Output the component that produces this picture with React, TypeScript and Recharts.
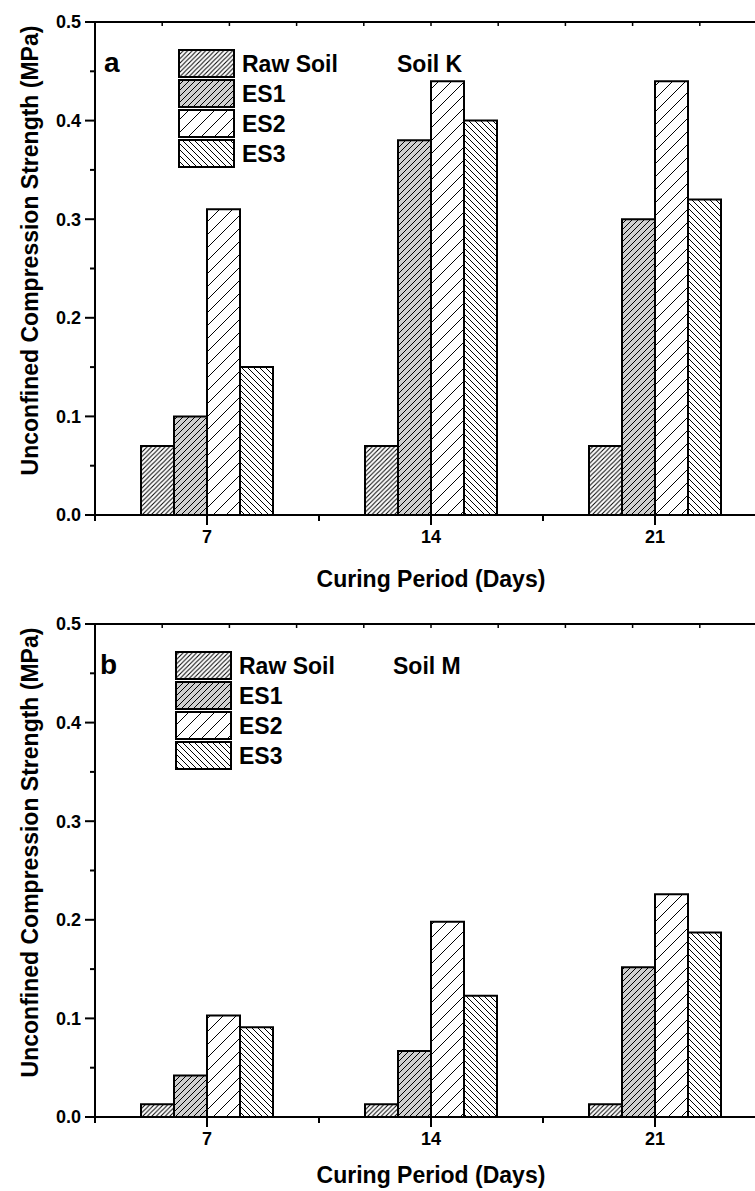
import React from "react";
import { BarChart, Bar, XAxis, YAxis } from "recharts";

const days = ["7", "14", "21"];
const seriesNames = ["Raw Soil", "ES1", "ES2", "ES3"];

// panel a - Soil K
const soilKRaw = [0.07, 0.07, 0.07];
const soilKES1 = [0.1, 0.38, 0.3];
const soilKES2 = [0.31, 0.44, 0.44];
const soilKES3 = [0.15, 0.4, 0.32];

// panel b - Soil M
const soilMRaw = [0.013, 0.013, 0.013];
const soilMES1 = [0.042, 0.067, 0.152];
const soilMES2 = [0.103, 0.198, 0.226];
const soilMES3 = [0.091, 0.123, 0.187];

const yTicks = [0, 0.05, 0.1, 0.15, 0.2, 0.25, 0.3, 0.35, 0.4, 0.45, 0.5];
const TOP_DIVISIONS = 10;

const FONT = '"Liberation Sans", Arial, Helvetica, sans-serif';
const PANEL_W = 780;
const PANEL_H = 602;
const MARGIN = { top: 22, right: 13, bottom: 0, left: 0 };
const Y_AXIS_W = 95;
const X_AXIS_H = 87;
const PLOT_W = PANEL_W - MARGIN.right - Y_AXIS_W;
const BAND_W = PLOT_W / days.length;
const AXIS = { stroke: "#000", strokeWidth: 2 };

const hatches = [
  { id: "hatch-raw", step: 4.5, dir: "/", bg: "#ffffff" },
  { id: "hatch-es1", step: 6, dir: "/", bg: "#cfcfcf" },
  { id: "hatch-es2", step: 13, dir: "/", bg: "#ffffff" },
  { id: "hatch-es3", step: 6, dir: "\\", bg: "#ffffff" },
];
const seriesKeys = ["raw", "es1", "es2", "es3"];

function HatchDefs() {
  return (
    <svg width={0} height={0} style={{ position: "absolute" }}>
      <defs>
        {hatches.map((h) => {
          const s = h.step;
          const d =
            h.dir === "/"
              ? `M0,${s} L${s},0 M-1,1 L1,-1 M${s - 1},${s + 1} L${s + 1},${s - 1}`
              : `M0,0 L${s},${s} M${s - 1},-1 L${s + 1},1 M-1,${s - 1} L1,${s + 1}`;
          return (
            <pattern key={h.id} id={h.id} patternUnits="userSpaceOnUse" width={s} height={s}>
              <rect width={s} height={s} fill={h.bg} />
              <path d={d} stroke="#000" strokeWidth={1} />
            </pattern>
          );
        })}
      </defs>
    </svg>
  );
}

const YTick = ({ x, y, payload }: any) => {
  const v = payload.value;
  const major = Math.abs(v * 10 - Math.round(v * 10)) < 1e-6;
  return (
    <g>
      <line x1={x - (major ? 10 : 5)} x2={x} y1={y} y2={y} stroke="#000" strokeWidth={2} />
      {major && (
        <text x={x - 14} y={y} dy="0.36em" textAnchor="end" fontFamily={FONT} fontWeight="bold" fontSize={18} fill="#000">
          {v.toFixed(1)}
        </text>
      )}
    </g>
  );
};

// labelled tick at the band centre, short minor ticks at the band edges
const DayTick = ({ x, y, payload, index }: any) => {
  const half = BAND_W / 2;
  return (
    <g>
      <line x1={x} x2={x} y1={y} y2={y + 10} stroke="#000" strokeWidth={2} />
      <line x1={x + half} x2={x + half} y1={y} y2={y + 6} stroke="#000" strokeWidth={2} />
      {index === 0 && <line x1={x - half} x2={x - half} y1={y} y2={y + 6} stroke="#000" strokeWidth={2} />}
      <text x={x} y={y + 15} dy="0.71em" textAnchor="middle" fontFamily={FONT} fontWeight="bold" fontSize={18} fill="#000">
        {payload.value}
      </text>
    </g>
  );
};

const XTitle = ({ viewBox, offsetY }: any) => (
  <text
    x={viewBox.x + viewBox.width / 2}
    y={viewBox.y + offsetY}
    textAnchor="middle"
    fontFamily={FONT}
    fontWeight="bold"
    fontSize={23}
    fill="#000"
  >
    Curing Period (Days)
  </text>
);

const YTitle = ({ viewBox }: any) => {
  const cx = 38;
  const cy = viewBox.y + viewBox.height / 2 - 18;
  return (
    <text
      x={cx}
      y={cy}
      transform={`rotate(-90 ${cx} ${cy})`}
      textAnchor="middle"
      fontFamily={FONT}
      fontWeight="bold"
      fontSize={23}
      fill="#000"
    >
      Unconfined Compression Strength (MPa)
    </text>
  );
};

interface PanelProps {
  letter: string;
  soil: string;
  raw: number[];
  es1: number[];
  es2: number[];
  es3: number[];
  letterX: number;
  legendX: number;
  soilX: number;
  titleY: number;
}

function Panel({ letter, soil, raw, es1, es2, es3, letterX, legendX, soilX, titleY }: PanelProps) {
  const data = days.map((day, i) => ({
    day,
    raw: raw[i],
    es1: es1[i],
    es2: es2[i],
    es3: es3[i],
  }));
  const top = MARGIN.top;
  const left = Y_AXIS_W;

  return (
    <div style={{ position: "relative", width: PANEL_W, height: PANEL_H }}>
      <BarChart width={PANEL_W} height={PANEL_H} data={data} margin={MARGIN} barGap={0} barSize={33}>
        <XAxis
          dataKey="day"
          type="category"
          interval={0}
          tickSize={0}
          tickMargin={0}
          tickLine={false}
          tick={<DayTick />}
          height={X_AXIS_H}
          axisLine={AXIS}
          label={<XTitle offsetY={titleY} />}
        />
        <YAxis
          type="number"
          domain={[0, 0.5]}
          ticks={yTicks}
          interval={0}
          allowDataOverflow
          width={Y_AXIS_W}
          tickSize={0}
          tickMargin={0}
          tickLine={false}
          tick={<YTick />}
          axisLine={AXIS}
          label={<YTitle />}
        />
        {seriesKeys.map((key, i) => (
          <Bar
            key={key}
            dataKey={key}
            name={seriesNames[i]}
            fill={`url(#${hatches[i].id})`}
            stroke="#000"
            strokeWidth={2}
            isAnimationActive={false}
          />
        ))}
      </BarChart>
      <svg
        width={PANEL_W}
        height={PANEL_H}
        style={{ position: "absolute", left: 0, top: 0, pointerEvents: "none" }}
        fontFamily={FONT}
        fontWeight="bold"
      >
        {/* top frame with small inward ticks */}
        <line x1={left} x2={left + PLOT_W} y1={top} y2={top} stroke="#000" strokeWidth={2} />
        {Array.from({ length: TOP_DIVISIONS + 1 }, (_, i) => (
          <line
            key={i}
            x1={left + (i * PLOT_W) / TOP_DIVISIONS}
            x2={left + (i * PLOT_W) / TOP_DIVISIONS}
            y1={top}
            y2={top + 4}
            stroke="#000"
            strokeWidth={1.5}
          />
        ))}
        <text x={letterX} y={72} fontSize={28} fill="#000">
          {letter}
        </text>
        {seriesNames.map((name, i) => (
          <g key={name}>
            <rect
              x={legendX}
              y={50 + i * 30}
              width={55}
              height={27}
              fill={`url(#${hatches[i].id})`}
              stroke="#000"
              strokeWidth={2}
            />
            <text x={legendX + 63} y={72 + i * 30} fontSize={23} fill="#000">
              {name}
            </text>
          </g>
        ))}
        <text x={soilX} y={72} fontSize={23} fill="#000">
          {soil}
        </text>
      </svg>
    </div>
  );
}

export default function App() {
  return (
    <div
      style={{
        position: "absolute",
        left: 0,
        top: 0,
        width: 755,
        height: 1191,
        overflow: "hidden",
        background: "#fff",
      }}
    >
      <HatchDefs />
      <Panel
        letter="a"
        soil="Soil K"
        raw={soilKRaw}
        es1={soilKES1}
        es2={soilKES2}
        es3={soilKES3}
        letterX={104}
        legendX={179}
        soilX={397}
        titleY={72}
      />
      <Panel
        letter="b"
        soil="Soil M"
        raw={soilMRaw}
        es1={soilMES1}
        es2={soilMES2}
        es3={soilMES3}
        letterX={100}
        legendX={176}
        soilX={393}
        titleY={66}
      />
    </div>
  );
}
